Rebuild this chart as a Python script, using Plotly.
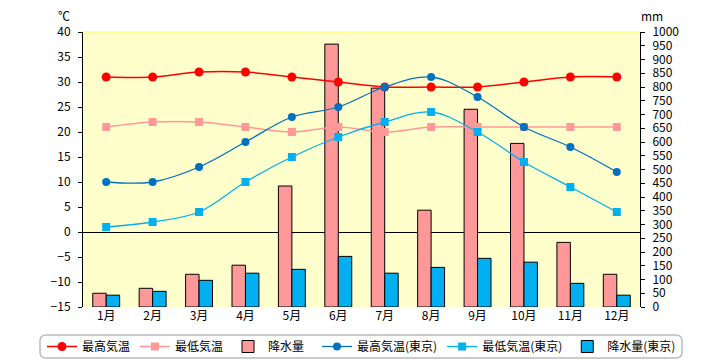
import plotly.graph_objects as go

months = ["1月", "2月", "3月", "4月", "5月", "6月", "7月", "8月", "9月", "10月", "11月", "12月"]
max_temp = [31, 31, 32, 32, 31, 30, 29, 29, 29, 30, 31, 31]
min_temp = [21, 22, 22, 21, 20, 21, 20, 21, 21, 21, 21, 21]
precip = [50, 68, 119, 152, 440, 956, 796, 352, 719, 595, 235, 119]
tokyo_max = [10, 10, 13, 18, 23, 25, 29, 31, 27, 21, 17, 12]
tokyo_min = [1, 2, 4, 10, 15, 19, 22, 24, 20, 14, 9, 4]
tokyo_precip = [43, 57, 97, 123, 137, 184, 123, 144, 177, 163, 86, 43]

FONT = "Liberation Sans Narrow, Noto Sans CJK JP, sans-serif"

fig = go.Figure()

# bars on primary (right) axis
fig.add_trace(go.Bar(x=months, y=precip, name="降水量", marker=dict(color="#FF9999", line=dict(color="black", width=1)), yaxis="y", legend="legend", legendrank=3))
fig.add_trace(go.Bar(x=months, y=tokyo_precip, name="降水量(東京)", marker=dict(color="#00B0F0", line=dict(color="black", width=1)), yaxis="y", legend="legend2", legendrank=6))

# lines on overlaying (left) axis
fig.add_trace(go.Scatter(x=months, y=max_temp, name="最高気温", mode="lines+markers", line=dict(color="#FF0000", width=1.5, shape="spline"), marker=dict(symbol="circle", size=9, color="#FF0000"), yaxis="y2", legend="legend", legendrank=1))
fig.add_trace(go.Scatter(x=months, y=min_temp, name="最低気温", mode="lines+markers", line=dict(color="#FF9999", width=1.5, shape="spline"), marker=dict(symbol="square", size=8, color="#FF9999"), yaxis="y2", legend="legend", legendrank=2))
fig.add_trace(go.Scatter(x=months, y=tokyo_max, name="最高気温(東京)", mode="lines+markers", line=dict(color="#0070C0", width=1.3, shape="spline"), marker=dict(symbol="circle", size=8, color="#0070C0"), yaxis="y2", legend="legend2", legendrank=4))
fig.add_trace(go.Scatter(x=months, y=tokyo_min, name="最低気温(東京)", mode="lines+markers", line=dict(color="#00B0F0", width=1.3, shape="spline"), marker=dict(symbol="square", size=8, color="#00B0F0"), yaxis="y2", legend="legend2", legendrank=5))

W, H = 712, 352  # page body has an 8px margin
L, R, T, B = 75, 80, 24, 53
pw, ph = W - L - R, H - T - B

def px_x(x):  # window x -> paper
    return (x - 8 - L) / pw

def px_y(y):  # window y -> paper
    return (H - B - (y - 8)) / ph

bx0, bx1, by0, by1 = px_x(40), px_x(682), px_y(335), px_y(358)
rx, ry = 6 / pw, 6 / ph
box_path = (f"M {bx0+rx},{by0} L {bx1-rx},{by0} Q {bx1},{by0} {bx1},{by0-ry} "
            f"L {bx1},{by1+ry} Q {bx1},{by1} {bx1-rx},{by1} L {bx0+rx},{by1} "
            f"Q {bx0},{by1} {bx0},{by1+ry} L {bx0},{by0-ry} Q {bx0},{by0} {bx0+rx},{by0} Z")

leg_common = dict(orientation="h", xref="container", yref="container", xanchor="left",
                  y=(352 - (346.5 - 8)) / 352, yanchor="middle", borderwidth=0,
                  bgcolor="rgba(0,0,0,0)", font=dict(family=FONT, size=12), itemwidth=30,
                  tracegroupgap=0, traceorder="normal")

fig.update_layout(
    width=W, height=H,
    margin=dict(l=L, r=R, t=T, b=B, autoexpand=False),
    paper_bgcolor="white",
    plot_bgcolor="#FFFFCC",
    font=dict(family=FONT, size=12, color="black"),
    barmode="group",
    bargap=0.42,
    bargroupgap=0,
    showlegend=True,
    legend=dict(x=(42 - 8) / W, **leg_common),
    legend2=dict(x=(317 - 8) / W, **leg_common),
    xaxis=dict(range=[-0.5, 11.5], showline=False, ticks="", showgrid=False,
               tickfont=dict(size=12), automargin=False),
    yaxis=dict(side="right", range=[0, 1000], dtick=50, showgrid=False, zeroline=False,
               showline=True, linecolor="black", linewidth=1, ticks="outside", ticklen=4,
               tickcolor="black", tickwidth=1, ticklabelstandoff=5, tickfont=dict(size=12),
               automargin=False),
    yaxis2=dict(side="left", overlaying="y", range=[-15, 40], dtick=5, showgrid=False,
                zeroline=True, zerolinecolor="black", zerolinewidth=1,
                showline=True, linecolor="black", linewidth=1, ticks="outside", ticklen=4,
                tickcolor="black", tickwidth=1, ticklabelstandoff=5, tickfont=dict(size=12),
                automargin=False),
    annotations=[
        dict(text="℃", xref="paper", yref="paper", x=px_x(56), y=px_y(15), yanchor="middle",
             showarrow=False, font=dict(size=12)),
        dict(text="mm", xref="paper", yref="paper", x=px_x(665), y=px_y(15), yanchor="middle",
             showarrow=False, font=dict(size=12)),
    ],
    shapes=[
        dict(type="line", xref="paper", yref="paper", x0=0, x1=1, y0=1, y1=1, line=dict(color="#FFFF80", width=1.5)),
        dict(type="path", xref="paper", yref="paper", path=box_path, fillcolor="white",
             line=dict(color="#BBBBBB", width=1.5), layer="below"),
    ],
)

fig.write_html("out.html")
